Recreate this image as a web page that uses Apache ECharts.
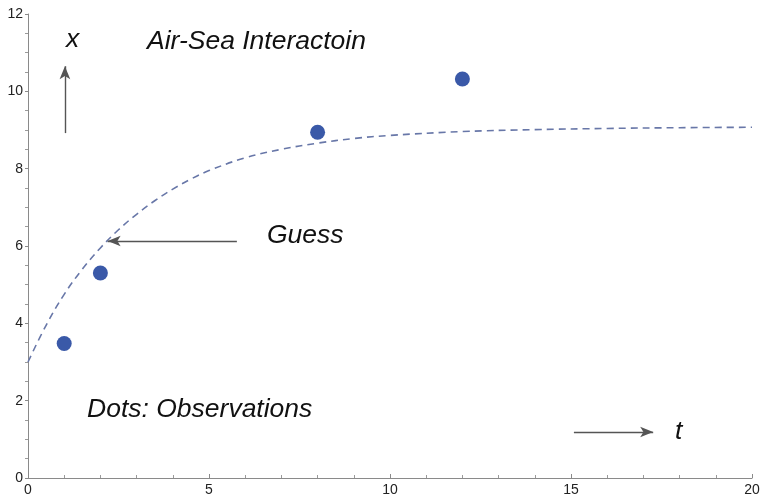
<!DOCTYPE html>
<html>
<head>
<meta charset="utf-8">
<script src="https://cdn.jsdelivr.net/npm/echarts@6/dist/echarts.min.js"></script>
<style>
  html, body { margin: 0; padding: 0; background: #fff; }
  #chart { width: 764px; height: 498px; }
</style>
</head>
<body>
<div id="chart"></div>
<script>
// observations (dots)
let obsT = [1, 2, 8, 12];
let obsX = [3.48, 5.3, 8.94, 10.32];

// guess curve
let guessT = [0, 0.5, 1, 1.5, 2, 2.5, 3, 3.5, 4, 4.5, 5, 6, 7, 8, 9, 10, 12, 14, 16, 18, 20];
let guessX = [3.0, 3.95, 4.75, 5.4, 5.95, 6.42, 6.82, 7.17, 7.47, 7.73, 7.95, 8.28, 8.5, 8.66, 8.78, 8.86, 8.96, 9.01, 9.04, 9.06, 9.07];

// annotation arrows [from, to] in data coords
let arrows = [
  [[1.02, 8.92], [1.02, 10.65]],
  [[5.77, 6.13], [2.2, 6.13]],
  [[15.08, 1.19], [17.27, 1.19]]
];

let myChart = echarts.init(document.getElementById("chart"));

let font = "italic 26.5px 'Liberation Sans', Arial, sans-serif";

var option = {
  animation: false,
  grid: { left: 28, right: 12, top: 14, bottom: 20 },
  xAxis: {
    type: "value",
    min: 0, max: 20, interval: 5,
    axisLine: { lineStyle: { color: "#8a8a8a" } },
    axisTick: { inside: true, length: 4, lineStyle: { color: "#8a8a8a" } },
    minorTick: { show: true, splitNumber: 5, length: 3, lineStyle: { color: "#9a9a9a" } },
    axisLabel: { color: "#222", fontSize: 14, margin: 5, fontFamily: "'Liberation Sans', Arial" },
    splitLine: { show: false }
  },
  yAxis: {
    type: "value",
    min: 0, max: 12, interval: 2,
    axisLine: { show: true, lineStyle: { color: "#8a8a8a" } },
    axisTick: { show: true, inside: false, length: 3, lineStyle: { color: "#8a8a8a" } },
    minorTick: { show: true, splitNumber: 4, length: 3, lineStyle: { color: "#9a9a9a" } },
    axisLabel: { color: "#222", fontSize: 14, margin: 5, fontFamily: "'Liberation Sans', Arial" },
    splitLine: { show: false }
  },
  series: [
    {
      name: "Guess",
      type: "line",
      smooth: 0.4,
      symbol: "none",
      lineStyle: { color: "#6877a8", width: 1.6, type: [7, 5] },
      data: guessT.map((t, i) => [t, guessX[i]]),
      markLine: {
        silent: true,
        symbol: ["none", "arrow"],
        symbolSize: [8, 13],
        label: { show: false },
        lineStyle: { color: "#555", width: 1.4, type: "solid" },
        data: arrows.map(a => [{ coord: a[0] }, { coord: a[1] }])
      }
    },
    {
      name: "Observations",
      type: "scatter",
      symbolSize: 15,
      itemStyle: { color: "#3a59a8", opacity: 1 },
      data: obsT.map((t, i) => [t, obsX[i]])
    }
  ],
  graphic: [
    { type: "text", x: 66, y: 40, style: { text: "x", font: font, fill: "#111", textVerticalAlign: "middle" } },
    { type: "text", x: 147, y: 42, style: { text: "Air-Sea Interactoin", font: font, fill: "#111", textVerticalAlign: "middle" } },
    { type: "text", x: 267, y: 236, style: { text: "Guess", font: font, fill: "#111", textVerticalAlign: "middle" } },
    { type: "text", x: 87, y: 410, style: { text: "Dots: Observations", font: font, fill: "#111", textVerticalAlign: "middle" } },
    { type: "text", x: 675, y: 432, style: { text: "t", font: font, fill: "#111", textVerticalAlign: "middle" } }
  ]
};

myChart.setOption(option);
</script>
</body>
</html>
